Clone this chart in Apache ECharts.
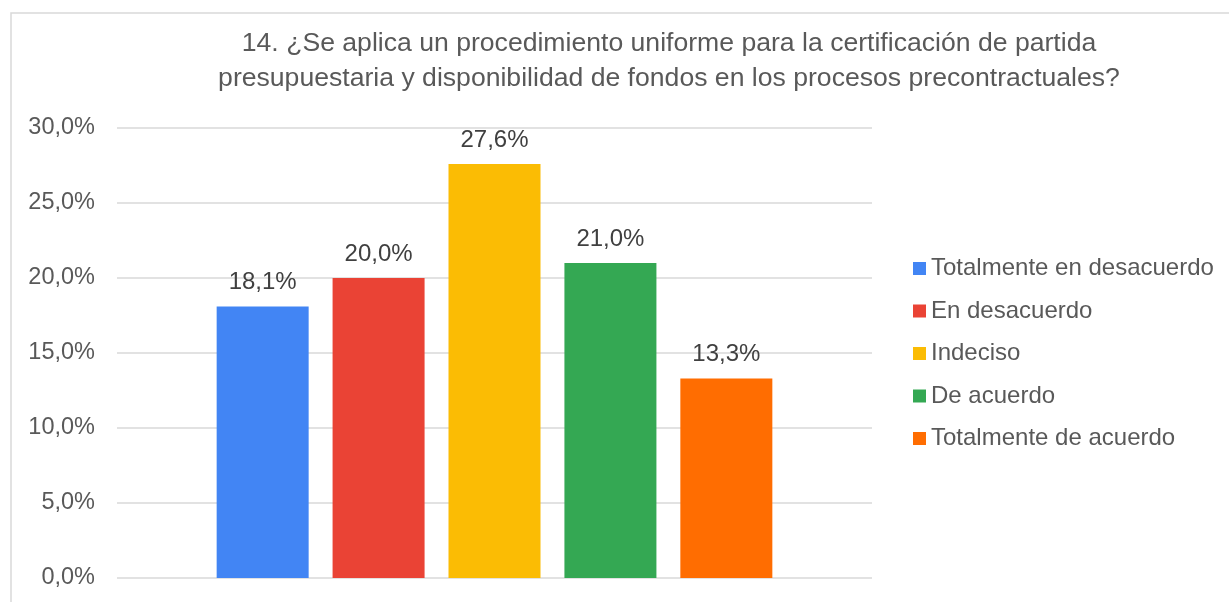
<!DOCTYPE html>
<html>
<head>
<meta charset="utf-8">
<script src="https://cdn.jsdelivr.net/npm/echarts@6/dist/echarts.min.js"></script>
<style>
html,body{margin:0;padding:0;background:#fff;}
#c{width:1229px;height:602px;}
</style>
</head>
<body>
<div id="c"></div>
<script>
const titleLines = [
  "14. ¿Se aplica un procedimiento uniforme para la certificación de partida",
  "presupuestaria y disponibilidad de fondos en los procesos precontractuales?"
];
const seriesNames = ["Totalmente en desacuerdo", "En desacuerdo", "Indeciso", "De acuerdo", "Totalmente de acuerdo"];
const seriesValues = [18.1, 20.0, 27.6, 21.0, 13.3];
const seriesColors = ["#4285f4", "#ea4335", "#fbbc04", "#34a853", "#ff6d01"];
const categories = [""];
const yTicks = { min: 0, max: 30, interval: 5 };

const FONT = "'Liberation Sans', Arial, sans-serif";
const fmt = v => v.toFixed(1).replace('.', ',') + '%';

const chart = echarts.init(document.getElementById('c'), null, { renderer: 'canvas' });
chart.setOption({
  animation: false,
  backgroundColor: '#ffffff',
  textStyle: { fontFamily: FONT },
  graphic: [
    { type: 'rect', shape: { x: 11, y: 13, width: 1300, height: 700 }, style: { fill: 'none', stroke: '#d9d9d9', lineWidth: 1.5 }, silent: true, z: -1 },
    { type: 'text', x: 669, y: 44, style: { text: titleLines[0], font: "26.6px " + FONT, fill: '#595959', textAlign: 'center', textVerticalAlign: 'middle' } },
    { type: 'text', x: 669, y: 79, style: { text: titleLines[1], font: "26.6px " + FONT, fill: '#595959', textAlign: 'center', textVerticalAlign: 'middle' } }
  ],
  grid: { left: 117, right: 357, top: 128, bottom: 24, containLabel: false },
  legend: {
    orient: 'vertical',
    left: 908,
    top: 251.5,
    itemWidth: 13,
    itemHeight: 13,
    itemGap: 18.5,
    icon: 'rect',
    textStyle: { fontFamily: FONT, fontSize: 24, color: '#595959', lineHeight: 24 },
    data: seriesNames
  },
  xAxis: {
    type: 'category',
    data: categories,
    axisLine: { show: false },
    axisTick: { show: false },
    axisLabel: { show: false }
  },
  yAxis: {
    type: 'value',
    min: yTicks.min, max: yTicks.max, interval: yTicks.interval,
    axisLine: { show: false },
    axisTick: { show: false },
    axisLabel: { formatter: v => fmt(v), fontFamily: FONT, fontSize: 23.5, color: '#595959', margin: 22 },
    splitLine: { lineStyle: { color: '#d9d9d9', width: 1.5 } }
  },
  series: seriesNames.map((name, i) => ({
    name: name,
    type: 'bar',
    barWidth: 92,
    barGap: '26%',
    itemStyle: { color: seriesColors[i] },
    label: { show: true, position: 'top', distance: 12, formatter: p => fmt(p.value), fontFamily: FONT, fontSize: 24, color: '#404040' },
    data: [seriesValues[i]]
  }))
});
</script>
</body>
</html>
